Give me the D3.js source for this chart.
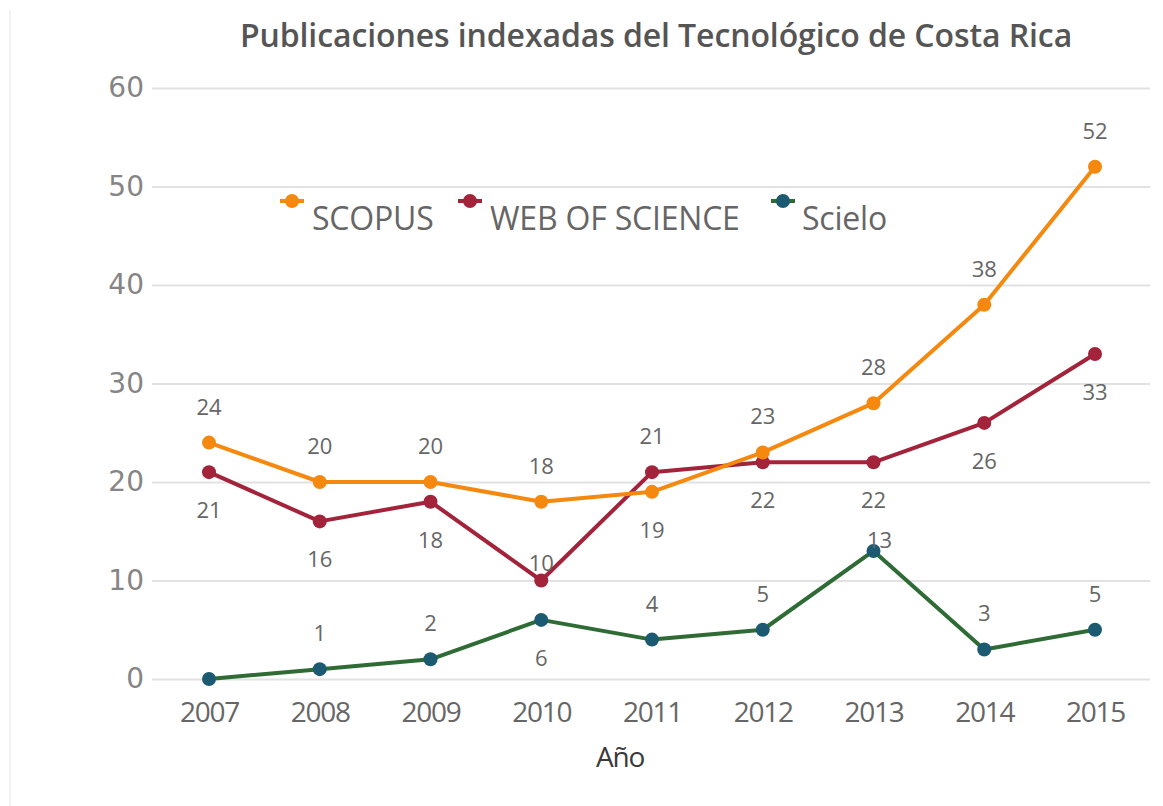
<!DOCTYPE html>
<html>
<head>
<meta charset="utf-8">
<script src="https://cdn.jsdelivr.net/npm/d3@7"></script>
<style>
  body { margin: 0; background: #fff; }
  svg { display: block; }
</style>
</head>
<body>
<div id="chart"></div>
<script>
const years = [2007, 2008, 2009, 2010, 2011, 2012, 2013, 2014, 2015];
const scopus = [24, 20, 20, 18, 19, 23, 28, 38, 52];
const wos = [21, 16, 18, 10, 21, 22, 22, 26, 33];
const scielo = [0, 1, 2, 6, 4, 5, 13, 3, 5];
const yTicks = [0, 10, 20, 30, 40, 50, 60];

// where each value label sits relative to its point
const scopusLabelSide = ['up', 'up', 'up', 'up', 'down', 'up', 'up', 'up', 'up'];
const wosLabelSide = ['down', 'down', 'down', 'near', 'up', 'down', 'down', 'down', 'down'];
const scieloLabelSide = ['none', 'up', 'up', 'down', 'up', 'up', 'on', 'up', 'up'];

const W = 1163, H = 806;
const margin = { left: 152, right: 13, top: 88, bottom: 127 };

const svg = d3.select('#chart').append('svg')
    .attr('width', W)
    .attr('height', H);

// faint frame of the original screenshot
svg.append('line')
    .attr('x1', 10).attr('x2', 10)
    .attr('y1', 10).attr('y2', H)
    .attr('stroke', '#f2f2f2')
    .attr('stroke-width', 2);

const x = d3.scalePoint()
    .domain(years)
    .range([209, 1095]);

const y = d3.scaleLinear()
    .domain([0, 60])
    .range([679, 88]);

// Title
svg.append('text')
    .attr('x', 656)
    .attr('y', 47)
    .attr('text-anchor', 'middle')
    .attr('font-family', 'Open Sans')
    .attr('font-weight', 600)
    .attr('font-size', 32)
    .attr('letter-spacing', -0.1)
    .attr('fill', '#555')
    .text('Publicaciones indexadas del Tecnológico de Costa Rica');

// Grid + y axis
const yAxis = d3.axisLeft(y)
    .tickValues(yTicks)
    .tickSize(-(W - margin.right - margin.left))
    .tickPadding(8);

const gy = svg.append('g')
    .attr('transform', `translate(${margin.left},0)`)
    .call(yAxis);
gy.select('.domain').remove();
gy.selectAll('.tick line')
    .attr('stroke', '#e2e2e2')
    .attr('stroke-width', 2);
gy.selectAll('.tick text')
    .attr('font-family', 'DejaVu Sans')
    .attr('font-size', 28)
    .attr('fill', '#858585');

// x axis
const gx = svg.append('g')
    .attr('transform', `translate(0,${y(0)})`)
    .call(d3.axisBottom(x).tickSize(0).tickPadding(23));
gx.select('.domain').remove();
gx.selectAll('.tick text')
    .attr('font-family', 'Open Sans')
    .attr('font-size', 28)
    .attr('letter-spacing', -1.2)
    .attr('fill', '#666');

svg.append('text')
    .attr('x', 620)
    .attr('y', 767)
    .attr('text-anchor', 'middle')
    .attr('font-family', 'Open Sans')
    .attr('font-size', 28)
    .attr('letter-spacing', -1.2)
    .attr('fill', '#3a3a3a')
    .text('Año');

const series = [
    { name: 'SCOPUS', values: scopus, line: '#f5890f', dot: '#f5890f', sides: scopusLabelSide },
    { name: 'WEB OF SCIENCE', values: wos, line: '#a3233a', dot: '#a3233a', sides: wosLabelSide },
    { name: 'Scielo', values: scielo, line: '#2f6b35', dot: '#1c5a72', sides: scieloLabelSide }
];

const line = d3.line()
    .x((d, i) => x(years[i]))
    .y(d => y(d));

// draw lines bottom-up like the original (scielo first)
series.slice().reverse().forEach(s => {
    const g = svg.append('g');
    g.append('path')
        .datum(s.values)
        .attr('fill', 'none')
        .attr('stroke', s.line)
        .attr('stroke-width', 4)
        .attr('stroke-linejoin', 'round')
        .attr('d', line);
    g.selectAll('circle')
        .data(s.values)
        .enter().append('circle')
        .attr('cx', (d, i) => x(years[i]))
        .attr('cy', d => y(d))
        .attr('r', 7)
        .attr('fill', s.dot);
});

// value labels
const offset = { up: -28, down: 46, near: -10, on: -3 };
const shift = { up: 0, down: 0, near: 0, on: 6 };
series.forEach(s => {
    svg.append('g').selectAll('text')
        .data(s.values.map((v, i) => ({ v, i, side: s.sides[i] })).filter(d => d.side !== 'none'))
        .enter().append('text')
        .attr('x', d => x(years[d.i]) + shift[d.side])
        .attr('y', d => y(d.v) + offset[d.side])
        .attr('text-anchor', 'middle')
        .attr('font-family', 'Open Sans')
        .attr('font-size', 22)
        .attr('fill', '#666')
        .text(d => d.v);
});

// Legend
const legendItems = [
    { s: series[0], x: 292, tx: 312 },
    { s: series[1], x: 470, tx: 490 },
    { s: series[2], x: 783, tx: 802 }
];
const lg = svg.append('g');
legendItems.forEach(it => {
    lg.append('line')
        .attr('x1', it.x - 12).attr('x2', it.x + 12)
        .attr('y1', 201).attr('y2', 201)
        .attr('stroke', it.s.line)
        .attr('stroke-width', 4);
    lg.append('circle')
        .attr('cx', it.x).attr('cy', 201)
        .attr('r', 7)
        .attr('fill', it.s.dot);
    lg.append('text')
        .attr('x', it.tx)
        .attr('y', 230)
        .attr('font-family', 'Open Sans')
        .attr('font-size', 32)
        .attr('letter-spacing', -0.2)
        .attr('fill', '#666')
        .text(it.s.name);
});
</script>
</body>
</html>
